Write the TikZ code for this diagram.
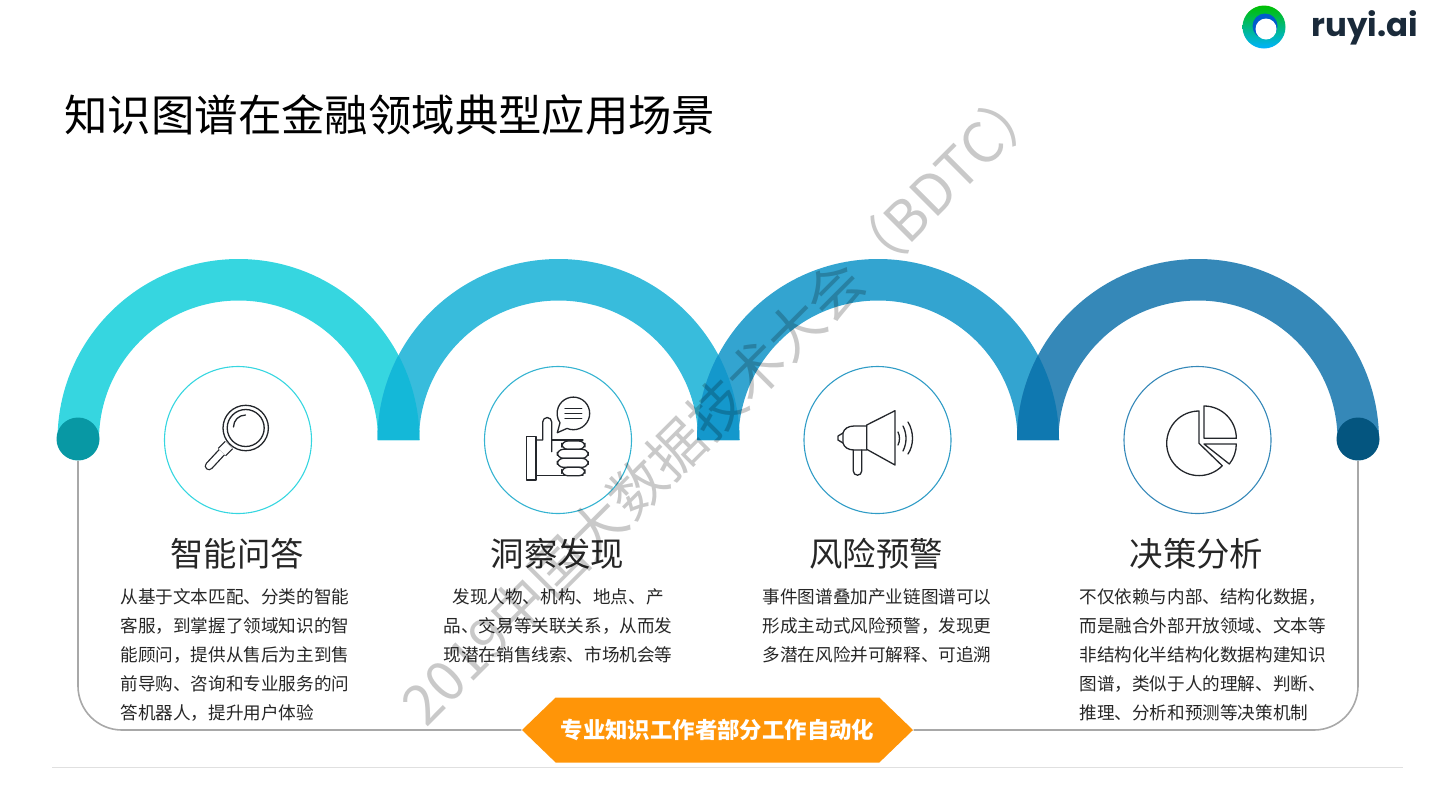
\documentclass[tikz,border=0pt]{standalone}
\usepackage{fontspec}
\setmainfont{Noto Sans CJK SC}
\newfontfamily\logofont{Poppins}
\usetikzlibrary{shapes.symbols}

\definecolor{archA}{HTML}{36D6E0}
\definecolor{archB}{HTML}{38BCDC}
\definecolor{archC}{HTML}{33A4D0}
\definecolor{archD}{HTML}{3588B8}
\definecolor{lensA}{HTML}{14B8D8}
\definecolor{lensB}{HTML}{1498CC}
\definecolor{lensC}{HTML}{0F78B0}
\definecolor{capA}{HTML}{0898A4}
\definecolor{capD}{HTML}{04557F}
\definecolor{ruleGray}{HTML}{A8A8A8}
\definecolor{bannerOrange}{HTML}{FF9508}
\definecolor{inkDark}{HTML}{23262B}
\definecolor{logoInk}{HTML}{1A2A3A}

\tikzset{
	iconline/.style={draw=inkDark,line width=0.65pt,line join=round,line cap=round},
	heading/.style={font=\fontsize{16.7}{20}\selectfont,text=black!85},
	bodytext/.style={font=\fontsize{8.8}{14.5}\selectfont,text=black!85},
	ring/.style={circle,draw,line width=0.55pt,minimum size=73.5pt,inner sep=0pt},
	capdot/.style={circle,minimum size=21.5pt,inner sep=0pt},
}

\begin{document}
\begin{tikzpicture}[x=0.5pt,y=-0.5pt]
	\useasboundingbox (0,0) rectangle (1440,810);
	
	% Arches
	\foreach \cx/\col in {238.5/archA, 558.5/archB, 878/archC, 1198/archD} {
		\fill[\col] (\cx-181,440) arc (180:360:181) -- (\cx+139.5,440) arc (360:180:139.5) -- cycle;
	}
	
	% Overlaps
	\foreach \cxa/\cxb/\col in {238.5/558.5/lensA, 558.5/878/lensB, 878/1198/lensC} {
		\begin{scope}
			\clip (\cxa,440) circle (181);
			\fill[\col] (\cxb-181,440) arc (180:360:181) -- cycle;
		\end{scope}
	}
	
	% Title
	\node[anchor=west,inner sep=0pt,font=\fontsize{21.7}{26}\selectfont,text=black] (title) at (64,115) {知识图谱在金融领域典型应用场景};
	
	% Logo
	\shade[top color=green!75!black,bottom color=cyan!70!blue] (1264,27) circle (21.5);
	\fill[blue!55!cyan!80!black] (1265,26) circle (12.5);
	\fill[white] (1266,29) circle (10.5);
	\node[anchor=west,inner sep=0pt,font=\logofont\bfseries\fontsize{16.2}{20}\selectfont,text=logoInk] (logo) at (1311,28) {ruyi.ai};
	
	% Rings
	\node[ring,draw=archA] (ringA) at (238,440) {};
	\node[ring,draw=archB!95!black] (ringB) at (558,440) {};
	\node[ring,draw=archC!95!black] (ringC) at (877.5,440) {};
	\node[ring,draw=archD] (ringD) at (1197.5,440) {};
	
	% Lens icon
	\draw[iconline,double=white,double distance=3pt] (222,452) -- (209,466);
	\draw[iconline,double=white,double distance=4.5pt,line cap=butt] (222,452) -- (229,445);
	\draw[iconline,fill=white] (245.7,428) circle (22.7);
	\draw[iconline] (245.7,428) circle (18.5);
	\draw[iconline] (233.5,427) arc (180:270:12);
	
	% Thumb icon
	\draw[iconline] (526.7,436.7) rectangle (536,480);
	\draw[iconline] (536,440) -- (542.7,440) -- (542.7,422) arc (180:360:4.5) -- (551.7,451.7);
	\draw[iconline] (551.7,440) -- (583,440);
	\draw[iconline] (536,475.7) -- (583,475.7);
	\draw[iconline,rounded corners=3pt] (561.7,441) rectangle (585,449.3);
	\draw[iconline,rounded corners=3pt] (557.3,449.3) rectangle (588.3,458.3);
	\draw[iconline,rounded corners=3pt] (557.3,458.3) rectangle (588.3,467.3);
	\draw[iconline,rounded corners=3pt] (561.7,467.3) rectangle (585,475.7);
	\draw[iconline] (557.3,432.7) -- (567,428.4) arc (-247:-575:16.3) -- cycle;
	\foreach \ypos in {408.3,413.3,418.3} {
		\draw[iconline] (565,\ypos) -- (581.7,\ypos);
	}
	
	% Horn icon
	\draw[iconline] (866.7,425) -- (895,410.7) -- (895,465) -- (866.7,449.3) -- cycle;
	\draw[iconline] (866.7,426) -- (854,426) .. controls (848,426) and (844,429) .. (843,433) -- (843,443) .. controls (844,447) and (848,450) .. (854,450) -- (866.7,450);
	\draw[iconline] (843,433) -- (838,436) -- (838,440) -- (843,443);
	\draw[iconline] (853.3,450) -- (853.3,471) arc (180:0:4.2) -- (861.7,450);
	\draw[iconline] (898,432) .. controls (900,436) and (900,441) .. (898,445);
	\draw[iconline] (903,426) .. controls (907,434) and (907,443) .. (903,451);
	\draw[iconline] (908,422) .. controls (914,432) and (914,445) .. (908,454);
	
	% Pie icon
	\draw[iconline] (1199,443.3) -- (1199,411) arc (-90:-316:32.3) -- cycle;
	\draw[iconline] (1204,438.3) -- (1204,406) arc (-90:0:32.3) -- cycle;
	\draw[iconline] (1204,444) -- (1236.3,444) arc (0:38.3:32.3) -- cycle;
	
	% Headings
	\node[heading] (headA) at (237,554) {智能问答};
	\node[heading] (headB) at (557.5,554) {洞察发现};
	\node[heading] (headC) at (876,554) {风险预警};
	\node[heading] (headD) at (1196.5,554) {决策分析};
	
	% Text blocks
	\node[bodytext,anchor=west,align=left,inner sep=0pt] (textA) at (120,655) {从基于文本匹配、分类的智能\\客服，到掌握了领域知识的智\\能顾问，提供从售后为主到售\\前导购、咨询和专业服务的问\\答机器人，提升用户体验};
	\node[bodytext,align=center,inner sep=0pt] (textB) at (558,625.5) {发现人物、机构、地点、产\\品、交易等关联关系，从而发\\现潜在销售线索、市场机会等};
	\node[bodytext,align=center,inner sep=0pt] (textC) at (877,625.5) {事件图谱叠加产业链图谱可以\\形成主动式风险预警，发现更\\多潜在风险并可解释、可追溯};
	\node[bodytext,anchor=west,align=left,inner sep=0pt] (textD) at (1079,655) {不仅依赖与内部、结构化数据，\\而是融合外部开放领域、文本等\\非结构化半结构化数据构建知识\\图谱，类似于人的理解、判断、\\推理、分析和预测等决策机制};
	
	% Banner
	\node[signal,signal to=east and west,signal pointer angle=88,fill=bannerOrange,text=white,minimum width=195.5pt,minimum height=32.5pt,inner sep=0pt,font=\fontsize{11.2}{14}\selectfont\bfseries] (banner) at (717.5,730) {专业知识工作者部分工作自动化};
	
	% Caps
	\node[capdot,fill=capA] (capL) at (78,439) {};
	\node[capdot,fill=capD] (capR) at (1358,439) {};
	
	% Lines
	\draw[ruleGray,line width=0.8pt,rounded corners=22pt] (capL.south) |- (banner.west);
	\draw[ruleGray,line width=0.8pt,rounded corners=22pt] (capR.south) |- (banner.east);
	\coordinate (footL) at (52,767);
	\coordinate (footR) at (1403,767);
	\draw[black!12,line width=0.5pt] (footL) -- (footR);
	
	% Watermark
	\node[rotate=45,text=black,text opacity=0.21,font=\fontsize{27.9}{32}\selectfont] (mark) at (722,403) {2019中国大数据技术大会（BDTC）};
\end{tikzpicture}
\end{document}
